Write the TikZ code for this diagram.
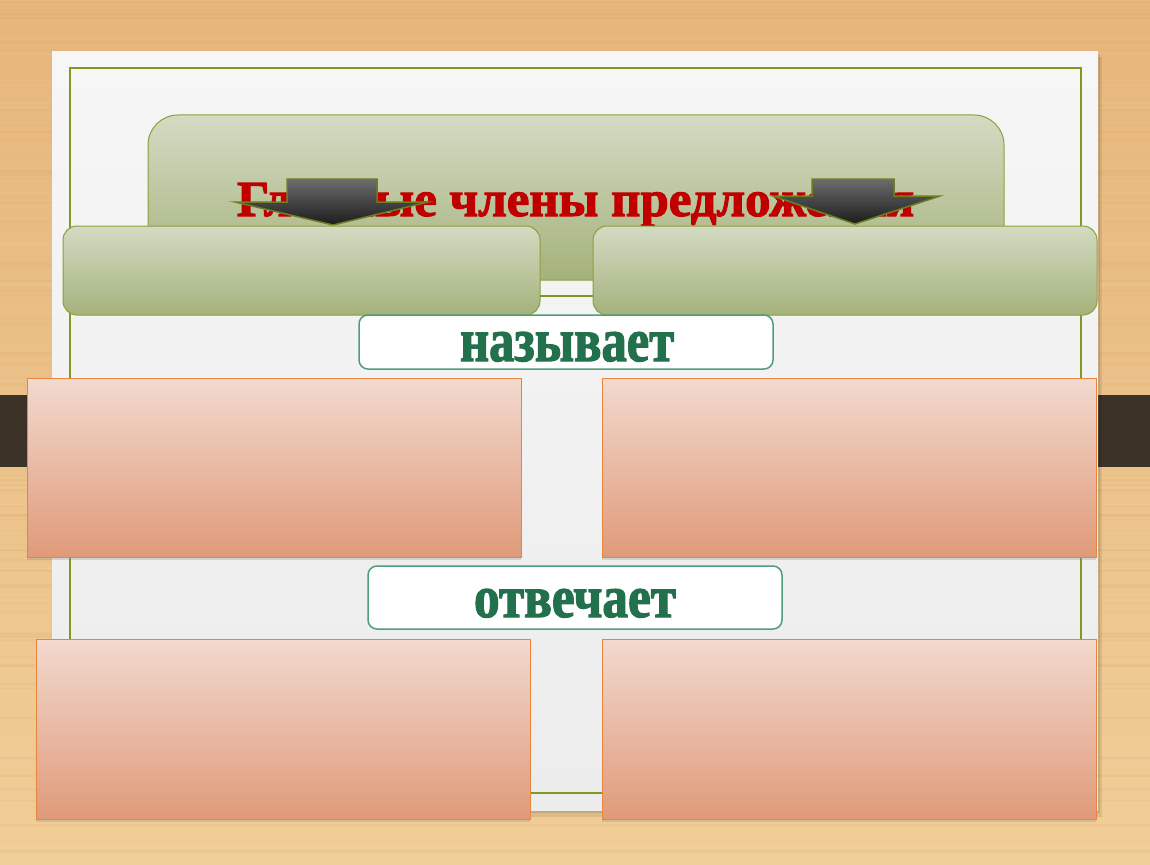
\documentclass[tikz,border=0pt]{standalone}
\usepackage{fontspec}
\setmainfont{Liberation Serif}
\newfontfamily\heavyfont{Liberation Serif}[BoldFeatures={FakeBold=2.2}]
\usetikzlibrary{shadows,calc}
\definecolor{woodtop}{HTML}{E6B67C}
\definecolor{woodbot}{HTML}{F0CE97}
\definecolor{wooddark}{HTML}{D89B5E}
\definecolor{woodlight}{HTML}{F4D6A2}
\definecolor{darkband}{HTML}{3D3228}
\definecolor{paper}{HTML}{F6F6F6}
\definecolor{paperbot}{HTML}{ECECEC}
\definecolor{framecol}{HTML}{7E9A24}
\definecolor{olivebd}{HTML}{8AA03A}
\definecolor{greentop}{HTML}{D3DBC3}
\definecolor{greenmid}{HTML}{C0C9A6}
\definecolor{greenbot}{HTML}{A4B27B}
\definecolor{titlered}{HTML}{C00000}
\definecolor{tealbd}{HTML}{4F9E79}
\definecolor{tealtext}{HTML}{22704C}
\definecolor{pinktop}{HTML}{F2D9CE}
\definecolor{pinkmid}{HTML}{E8B9A3}
\definecolor{pinkbot}{HTML}{E09A7A}
\definecolor{pinkbd}{HTML}{E8843C}
\definecolor{arrowtop}{HTML}{6C6C6C}
\definecolor{arrowbot}{HTML}{1C1C1C}
\definecolor{arrowbd}{HTML}{6B7F22}
\tikzset{
  greenbox/.style={draw=olivebd, line width=1pt, top color=greentop, middle color=greenmid, bottom color=greenbot, inner sep=0pt, outer sep=0pt},
  pinkbox/.style={draw=pinkbd, line width=1pt, top color=pinktop, middle color=pinkmid, bottom color=pinkbot, inner sep=0pt, outer sep=0pt,
     drop shadow={opacity=0.25, shadow xshift=0pt, shadow yshift=-3pt}},
  labelbox/.style={draw=tealbd, line width=1.5pt, fill=white, rounded corners=9pt, inner sep=0pt, outer sep=0pt},
  arrowshape/.style={draw=arrowbd, line width=1.5pt, line join=miter, top color=arrowtop, bottom color=arrowbot},
  frameline/.style={draw=framecol, line width=2pt},
  txt/.style={inner sep=0pt, outer sep=0pt, anchor=base west},
}
\begin{document}
\begin{tikzpicture}[x=1pt, y=-1pt]
\useasboundingbox (0,0) rectangle (1150,864);
% wood background
\shade[top color=woodtop, bottom color=woodbot] (0,0) rectangle (1150,864);
\pgfmathsetseed{11}
\foreach \i in {1,...,110}{
  \pgfmathsetmacro{\yy}{rnd*864}
  \pgfmathsetmacro{\hh}{0.6+rnd*2.5}
  \pgfmathsetmacro{\oo}{0.05+rnd*0.08}
  \fill[wooddark, opacity=\oo] (0,\yy) rectangle (1150,\yy+\hh);
}
\foreach \i in {1,...,50}{
  \pgfmathsetmacro{\yy}{rnd*864}
  \pgfmathsetmacro{\hh}{0.6+rnd*2}
  \fill[woodlight, opacity=0.15] (0,\yy) rectangle (1150,\yy+\hh);
}
\fill[darkband] (0,395) rectangle (1150,467);
% paper with shadow
\fill[black, opacity=0.08] (56,57) rectangle (1102,817);
\fill[black, opacity=0.10] (54,54) rectangle (1100,813);
\shade[top color=paper, bottom color=paperbot] (52,52) rectangle (1098,810);
\node[frameline, inner sep=0pt, outer sep=0pt, minimum width=1011pt, minimum height=725pt] (frame) at (575.5,430.5) {};
% title box
\node[greenbox, rounded corners=30pt, minimum width=856pt, minimum height=165pt] (title) at (576,197.5) {};
\node[txt, text=titlered] (titletext) at (237,216) {\resizebox{677pt}{33pt}{\heavyfont\bfseries Главные члены предложения}};
% arrows
\draw[arrowshape] (287,179) -- (377,179) -- (377,202) -- (428,202) -- (333,225) -- (235,202) -- (287,202) -- cycle;
\draw[arrowshape] (812,179) -- (894,179) -- (894,196) -- (940,196) -- (855,224) -- (773,196) -- (812,196) -- cycle;
% lower green boxes
\node[greenbox, rounded corners=14pt, minimum width=477pt, minimum height=89pt] (gl) at (301.5,270.5) {};
\node[greenbox, rounded corners=14pt, minimum width=504pt, minimum height=89pt] (gr) at (845,270.5) {};
\coordinate (midy) at (0,296);
\draw[draw=framecol, line width=1.5pt] (gl.east |- midy) -- (gr.west |- midy);
% label "называет"
\node[labelbox, minimum width=414pt, minimum height=54pt] (nazyv) at (566,342) {};
\node[txt, text=tealtext] (nazyvtext) at (460,361) {\resizebox{214pt}{29pt}{\heavyfont\bfseries называет}};
% pink boxes
\node[pinkbox, minimum width=494pt, minimum height=179pt] (ptl) at (274,467.5) {};
\node[pinkbox, minimum width=494pt, minimum height=179pt] (ptr) at (849,467.5) {};
% label "отвечает"
\node[labelbox, minimum width=414pt, minimum height=63pt] (otv) at (575,597.5) {};
\node[txt, text=tealtext] (otvtext) at (474,617) {\resizebox{202pt}{28pt}{\heavyfont\bfseries отвечает}};
\node[pinkbox, minimum width=494pt, minimum height=180pt] (pbl) at (283,729) {};
\node[pinkbox, minimum width=494pt, minimum height=180pt] (pbr) at (849,729) {};
\end{tikzpicture}
\end{document}
